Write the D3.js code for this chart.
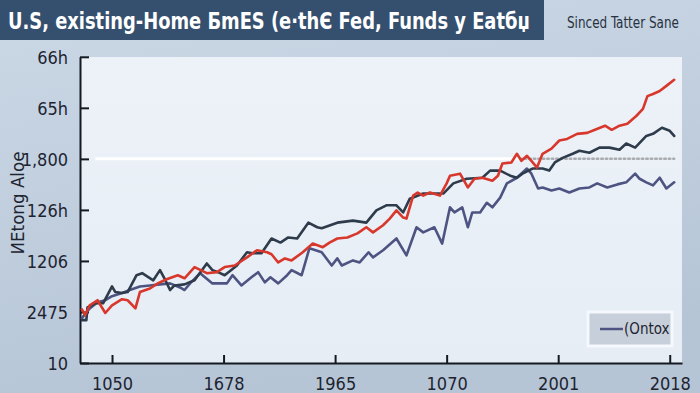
<!DOCTYPE html>
<html>
<head>
<meta charset="utf-8">
<script src="https://cdn.jsdelivr.net/npm/d3@7"></script>
<style>
	html, body { margin: 0; padding: 0; background: #c4d2e1; }
	svg { display: block; }
</style>
</head>
<body>
<svg id="chart"></svg>
<script>
// tick labels as printed on the chart
var xTickValues = [0, 10, 20, 30, 40, 50];
var xTickLabels = ["1050", "1678", "1965", "1070", "2001", "2018"];
var yTickValues = [0, 10, 20, 30, 40, 50, 60];
var yTickLabels = ["10", "2475", "1206", "126h", "1,800", "65h", "66h"];

// series values [x, value]
var redSeries = [
	[-2.7, 10.5], [-2.4, 9.4], [-2.0, 11.3], [-1.3, 12.3], [-0.6, 9.8], [0.0, 11.3], [0.9, 12.5], [1.4, 12.3],
	[2.1, 10.7], [2.5, 13.9], [3.4, 14.6], [4.1, 15.6], [4.9, 16.4], [5.9, 17.2], [6.5, 16.6], [7.4, 18.8],
	[8.5, 17.6], [9.4, 17.8], [10.1, 18.8], [11.0, 19.1], [12.1, 20.7], [13.0, 22.1], [13.9, 21.7], [14.3, 21.3],
	[14.9, 19.7], [15.5, 20.5], [16.1, 20.1], [17.1, 21.7], [18.0, 23.4], [18.9, 22.7], [19.5, 23.6], [20.2, 24.4],
	[21.1, 24.6], [22.0, 25.4], [22.8, 26.6], [23.4, 25.6], [24.3, 27.0], [24.9, 28.3], [25.5, 29.9], [26.1, 28.5],
	[26.4, 28.3], [27.0, 32.8], [27.4, 33.4], [27.9, 32.8], [28.5, 33.4], [29.4, 32.8], [30.0, 35.2], [30.3, 36.7],
	[31.2, 37.1], [31.9, 34.4], [32.5, 36.1], [33.2, 36.3], [34.1, 35.7], [34.6, 36.7], [35.0, 39.1], [35.8, 39.3],
	[36.3, 41.0], [36.7, 39.6], [37.2, 40.6], [37.6, 39.6], [38.1, 38.3], [38.6, 41.0], [39.4, 42.0], [40.1, 43.6],
	[40.8, 43.9], [41.7, 44.9], [42.6, 45.1], [43.3, 45.7], [44.2, 46.5], [44.8, 45.7], [45.5, 46.5], [46.2, 46.9],
	[47.0, 48.4], [47.6, 49.8], [48.0, 52.3], [48.5, 52.7], [49.1, 53.3], [49.7, 54.3], [50.4, 55.5]
];

var darkSeries = [
	[-2.7, 8.4], [-2.3, 8.4], [-2.2, 10.9], [-1.5, 11.7], [-0.8, 11.7], [0.0, 15.0], [0.3, 13.9], [0.9, 13.7],
	[1.4, 13.9], [2.2, 17.2], [2.7, 17.6], [3.7, 16.2], [4.3, 18.2], [4.7, 16.6], [5.2, 14.3], [5.6, 15.2],
	[6.5, 15.4], [7.4, 16.2], [8.5, 19.5], [9.0, 18.2], [9.5, 17.8], [10.1, 17.2], [11.2, 19.1], [12.1, 21.7],
	[12.6, 21.5], [13.4, 21.5], [14.3, 24.4], [15.1, 23.6], [15.8, 24.6], [16.6, 24.4], [17.6, 27.5], [18.4, 26.6],
	[18.8, 26.4], [20.2, 27.5], [21.6, 27.9], [22.8, 27.5], [23.7, 29.9], [24.6, 30.9], [25.5, 30.9], [26.1, 29.5],
	[26.7, 32.2], [27.9, 33.2], [29.7, 33.2], [30.6, 35.2], [31.8, 36.1], [33.2, 36.3], [33.9, 37.7], [34.8, 37.7],
	[35.7, 36.7], [36.3, 36.3], [36.8, 37.1], [37.7, 38.1], [38.6, 38.1], [39.2, 37.7], [39.7, 39.3], [40.4, 40.2],
	[41.3, 41.0], [41.9, 41.6], [42.8, 41.2], [43.7, 42.2], [44.6, 42.2], [45.5, 41.8], [46.1, 43.0], [46.9, 42.2],
	[47.9, 44.5], [48.5, 44.9], [49.3, 46.1], [50.0, 45.5], [50.4, 44.5]
];

var purpleSeries = [
	[-2.7, 8.8], [-2.0, 10.7], [-1.3, 11.9], [-0.6, 12.3], [0.0, 13.1], [0.9, 13.7], [1.6, 14.3], [2.5, 15.0],
	[3.4, 15.2], [4.3, 15.4], [5.2, 15.6], [6.1, 14.8], [6.5, 14.3], [7.0, 15.6], [7.9, 17.6], [9.0, 15.6],
	[10.3, 15.6], [10.8, 17.2], [11.6, 15.2], [12.5, 16.8], [13.1, 17.8], [13.7, 15.8], [14.2, 16.8], [14.9, 15.6],
	[15.7, 17.2], [16.1, 18.2], [17.0, 17.2], [17.7, 22.5], [18.8, 21.7], [19.7, 19.1], [20.2, 20.5], [20.6, 19.1],
	[21.6, 20.1], [22.2, 19.7], [23.0, 21.7], [23.4, 20.7], [24.3, 22.1], [25.5, 24.4], [26.4, 21.1], [27.3, 26.6],
	[27.9, 25.6], [28.9, 26.6], [29.6, 23.4], [30.3, 30.5], [30.7, 29.5], [31.4, 30.5], [31.9, 26.6], [32.3, 29.5],
	[33.0, 29.5], [33.6, 31.4], [34.1, 30.5], [34.8, 32.4], [35.4, 35.2], [36.3, 36.3], [37.2, 38.1], [37.6, 37.1],
	[38.2, 34.2], [38.6, 34.4], [39.4, 33.8], [40.1, 34.2], [41.0, 33.4], [41.9, 34.2], [42.8, 34.4], [43.5, 35.2],
	[44.4, 34.4], [45.3, 35.0], [46.1, 35.4], [46.9, 37.1], [47.3, 36.1], [47.9, 35.4], [48.5, 34.8], [49.1, 36.3],
	[49.7, 34.2], [50.4, 35.4]
];

// flat reference level: solid part then dotted part
var refLevel = 40;
var refSolid = [[-1.5, refLevel], [36.6, refLevel]];
var refDotted = [[36.6, refLevel], [50.4, refLevel]];

var titleText = "U.S, existing-Home БmES (e·thЄ Fed, Funds y Eatбџ";
var subtitleText = "Sinced Tatter Sane";
var yAxisTitle = "ИEtong Aloe";
var legendLabel = "(Ontox";

var width = 700, height = 393;
var plotLeft = 80, plotRight = 682, plotTop = 57, plotBottom = 363;
var condensed = "'Liberation Sans Narrow', 'DejaVu Sans Condensed', sans-serif";

var svg = d3.select("#chart")
	.attr("width", width)
	.attr("height", height);

// squeeze a text horizontally so it fills exactly targetWidth
function fitText(g, targetWidth) {
	var t = g.select("text");
	var w = t.node().getComputedTextLength();
	t.attr("transform", "scale(" + (targetWidth / w) + ",1)");
}

var defs = svg.append("defs");
var bgGrad = defs.append("linearGradient").attr("id", "bgGrad")
	.attr("x1", 0).attr("y1", 0).attr("x2", 0.3).attr("y2", 1);
bgGrad.append("stop").attr("offset", "0%").attr("stop-color", "#cbd8e6");
bgGrad.append("stop").attr("offset", "100%").attr("stop-color", "#b6c5d6");

var panelGrad = defs.append("linearGradient").attr("id", "panelGrad")
	.attr("x1", 0).attr("y1", 0).attr("x2", 0).attr("y2", 1);
panelGrad.append("stop").attr("offset", "0%").attr("stop-color", "#edf2f8");
panelGrad.append("stop").attr("offset", "100%").attr("stop-color", "#e6edf5");

svg.append("rect")
	.attr("width", width)
	.attr("height", height)
	.attr("fill", "url(#bgGrad)");

// title banner
svg.append("rect")
	.attr("x", 0).attr("y", 0)
	.attr("width", 544).attr("height", 40)
	.attr("fill", "#35506e");

var titleG = svg.append("g").attr("transform", "translate(8,29)");
titleG.append("text")
	.style("font-family", condensed)
	.style("font-weight", "bold")
	.style("font-size", "23px")
	.style("fill", "#ffffff")
	.text(titleText);
fitText(titleG, 522);

var subG = svg.append("g").attr("transform", "translate(567,28)");
subG.append("text")
	.style("font-family", condensed)
	.style("font-size", "16px")
	.style("fill", "#28323f")
	.text(subtitleText);
fitText(subG, 112);

// plot panel
svg.append("rect")
	.attr("x", plotLeft).attr("y", plotTop)
	.attr("width", plotRight - plotLeft)
	.attr("height", plotBottom - plotTop)
	.attr("fill", "url(#panelGrad)");

var x = d3.scaleLinear()
	.domain([-2.87, 51.1])
	.range([plotLeft, plotRight]);

var y = d3.scaleLinear()
	.domain([0, 60])
	.range([plotBottom, plotTop - 0.2]);

var xAxis = svg.append("g")
	.attr("transform", "translate(0," + plotBottom + ")")
	.call(d3.axisBottom(x)
		.tickValues(xTickValues)
		.tickFormat(function(d, i) { return xTickLabels[i]; })
		.tickSizeInner(-8)
		.tickSizeOuter(0)
		.tickPadding(14));

var yAxis = svg.append("g")
	.attr("transform", "translate(" + plotLeft + ",0)")
	.call(d3.axisLeft(y)
		.tickValues(yTickValues)
		.tickFormat(function(d, i) { return yTickLabels[i]; })
		.tickSizeInner(-9)
		.tickSizeOuter(0)
		.tickPadding(12));

[xAxis, yAxis].forEach(function(a) {
	a.select(".domain").attr("stroke", "#151a22").attr("stroke-width", 2);
	a.selectAll(".tick line").attr("stroke", "#151a22").attr("stroke-width", 2);
	a.selectAll(".tick text")
		.style("font-family", condensed)
		.style("font-size", "18px")
		.style("fill", "#1d2430");
});
yAxis.selectAll(".tick text").attr("dy", "0.36em");

var yTitleG = svg.append("g").attr("transform", "translate(24,203) rotate(-90)");
yTitleG.append("text")
	.attr("text-anchor", "middle")
	.style("font-family", condensed)
	.style("font-size", "18px")
	.style("fill", "#1d2430")
	.text(yAxisTitle);
fitText(yTitleG, 103);

var line = d3.line()
	.x(function(d) { return x(d[0]); })
	.y(function(d) { return y(d[1]); });

// reference level
svg.append("path")
	.datum(refSolid)
	.attr("d", line)
	.attr("fill", "none")
	.attr("stroke", "#ffffff")
	.attr("stroke-width", 3);

svg.append("path")
	.datum(refDotted)
	.attr("d", line)
	.attr("fill", "none")
	.attr("stroke", "#a9acb0")
	.attr("stroke-width", 2.5)
	.attr("stroke-linecap", "round")
	.attr("stroke-dasharray", "1.5,3");

var seriesList = [
	{ data: purpleSeries, color: "#4e5482" },
	{ data: darkSeries, color: "#2e3b4b" },
	{ data: redSeries, color: "#d8372c" }
];

seriesList.forEach(function(s) {
	svg.append("path")
		.datum(s.data)
		.attr("d", line)
		.attr("fill", "none")
		.attr("stroke", s.color)
		.attr("stroke-width", 2.6)
		.attr("stroke-linejoin", "round")
		.attr("stroke-linecap", "round");
});

// legend
var legend = svg.append("g");
legend.append("rect")
	.attr("x", 588).attr("y", 312)
	.attr("width", 84).attr("height", 34)
	.attr("fill", "#c7cfda")
	.attr("stroke", "#f5f8fc")
	.attr("stroke-width", 3);
legend.append("line")
	.attr("x1", 600).attr("x2", 623)
	.attr("y1", 329).attr("y2", 329)
	.attr("stroke", "#4e5482")
	.attr("stroke-width", 2.5);
legend.append("text")
	.attr("x", 624).attr("y", 334)
	.style("font-family", condensed)
	.style("font-size", "15px")
	.style("fill", "#1d2430")
	.text(legendLabel);
</script>
</body>
</html>
